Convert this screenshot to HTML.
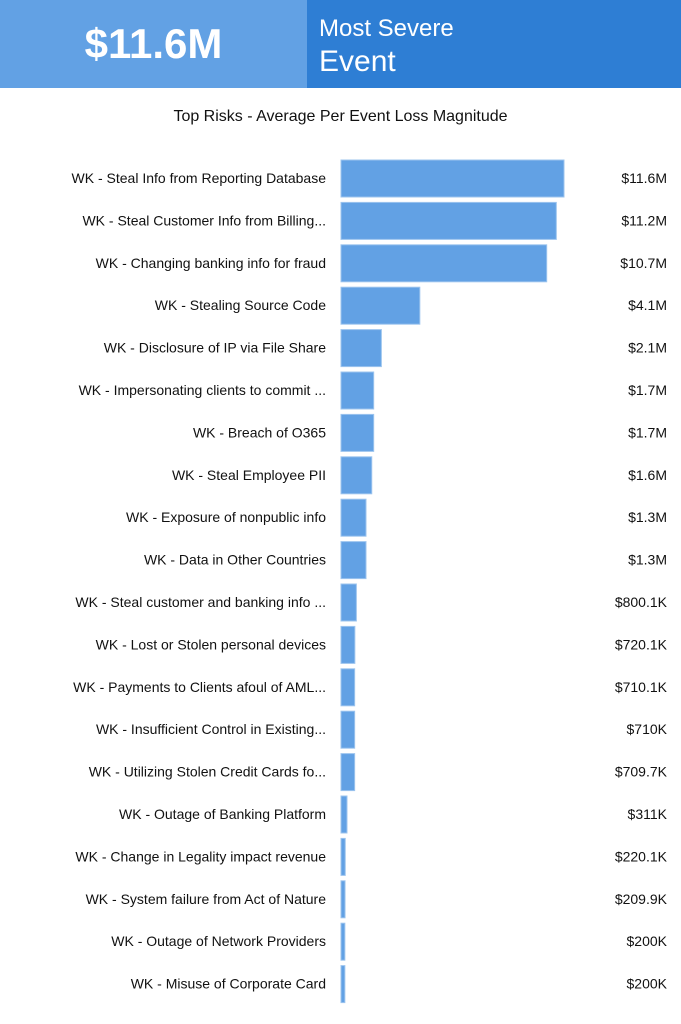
<!DOCTYPE html>
<html><head><meta charset="utf-8"><style>
body{margin:0;width:681px;height:1024px;background:#fff;font-family:"Liberation Sans",sans-serif;overflow:hidden;position:relative}
.hl{position:absolute;left:0;top:0;width:307px;height:88px;background:#62a1e4;color:#fff;font-weight:bold;font-size:42px;line-height:88px;text-align:center}
.hr{position:absolute;left:307px;top:0;width:374px;height:88px;background:#2e7ed4;color:#fff}
.t{position:absolute;left:0;width:681px;top:108px;text-align:center;font-size:16px;color:#111}
</style></head><body>
<div class="hl">$11.6M</div>
<div class="hr"><div style="position:absolute;left:12px;top:15px;font-size:24px">Most Severe</div><div style="position:absolute;left:12px;top:45px;font-size:30px">Event</div></div>
<div class="t">Top Risks - Average Per Event Loss Magnitude</div>
<svg id="c" width="681" height="1024" style="position:absolute;left:0;top:0"></svg>
<script>
const categories=["WK - Steal Info from Reporting Database","WK - Steal Customer Info from Billing...","WK - Changing banking info for fraud","WK - Stealing Source Code","WK - Disclosure of IP via File Share","WK - Impersonating clients to commit ...","WK - Breach of O365","WK - Steal Employee PII","WK - Exposure of nonpublic info","WK - Data in Other Countries","WK - Steal customer and banking info ...","WK - Lost or Stolen personal devices","WK - Payments to Clients afoul of AML...","WK - Insufficient Control in Existing...","WK - Utilizing Stolen Credit Cards fo...","WK - Outage of Banking Platform","WK - Change in Legality impact revenue","WK - System failure from Act of Nature","WK - Outage of Network Providers","WK - Misuse of Corporate Card"];
const values=[11.6,11.2,10.7,4.1,2.1,1.7,1.7,1.6,1.3,1.3,0.8001,0.7201,0.7101,0.710,0.7097,0.311,0.2201,0.2099,0.2,0.2];
const valueLabels=["$11.6M","$11.2M","$10.7M","$4.1M","$2.1M","$1.7M","$1.7M","$1.6M","$1.3M","$1.3M","$800.1K","$720.1K","$710.1K","$710K","$709.7K","$311K","$220.1K","$209.9K","$200K","$200K"];
const svg=document.getElementById('c'),NS='http://www.w3.org/2000/svg';
const x=v=>v*(223/11.6);
const y=i=>159+i*42.4;
categories.forEach((c,i)=>{
 const r=document.createElementNS(NS,'rect');
 
 
 r.setAttribute('x',341);r.setAttribute('y',y(i)+1);r.setAttribute('width',Math.max(x(values[i]),3));r.setAttribute('height',37);
 r.setAttribute('fill','#62a1e4');r.setAttribute('stroke','#9cc4ee');r.setAttribute('stroke-width','1');
 svg.appendChild(r);
 const t=document.createElementNS(NS,'text');
 
 
 t.setAttribute('x',326);t.setAttribute('y',y(i)+24);t.setAttribute('text-anchor','end');t.setAttribute('font-size','14');t.setAttribute('fill','#111');
 t.textContent=c;svg.appendChild(t);
 const v=document.createElementNS(NS,'text');
 
 
 v.setAttribute('x',667);v.setAttribute('y',y(i)+24);v.setAttribute('text-anchor','end');v.setAttribute('font-size','14');v.setAttribute('fill','#111');
 v.textContent=valueLabels[i];svg.appendChild(v);
});
</script>
</body></html>
